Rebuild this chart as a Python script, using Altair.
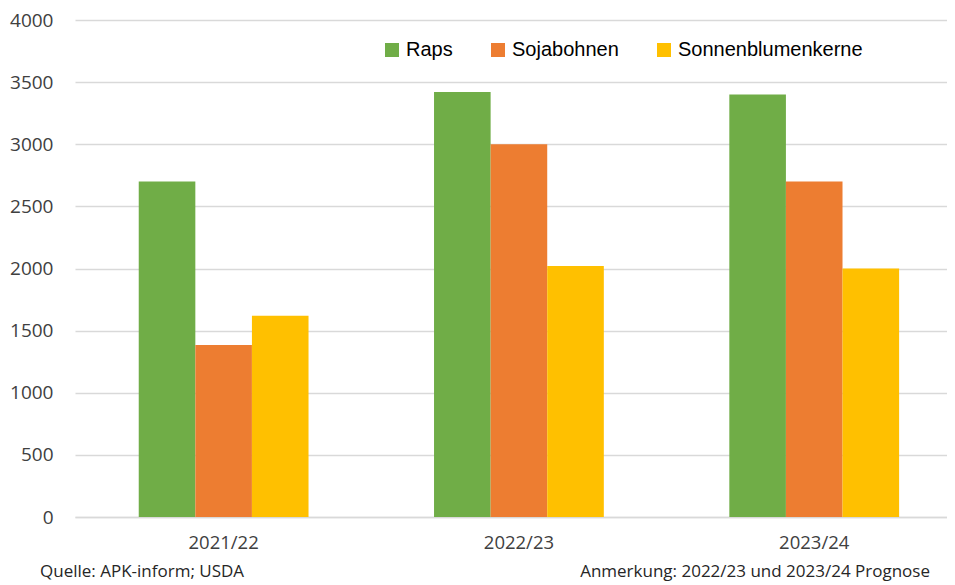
import altair as alt
import pandas as pd

years = ["2021/22", "2022/23", "2023/24"]
series = ["Raps", "Sojabohnen", "Sonnenblumenkerne"]
raps = [2700, 3420, 3400]
soja = [1385, 3000, 2700]
sonnen = [1620, 2020, 2000]
colors = ["#70AD47", "#ED7D31", "#FFC000"]
y_ticks = [0, 500, 1000, 1500, 2000, 2500, 3000, 3500, 4000]
source_note = ["Quelle: APK-inform; USDA"]
remark_note = ["Anmerkung: 2022/23 und 2023/24 Prognose"]

rows = []
for s, vals in zip(series, [raps, soja, sonnen]):
    for yr, v in zip(years, vals):
        rows.append({"Jahr": yr, "Sorte": s, "Wert": v})
df = pd.DataFrame(rows)

bars = alt.Chart(df).mark_bar().encode(
    x=alt.X(
        "Jahr:N",
        sort=years,
        scale=alt.Scale(paddingInner=0.425, paddingOuter=0.189, align=0.571),
        axis=alt.Axis(
            title=None, labelAngle=0, ticks=False, domain=True,
            domainColor="#d9d9d9", domainWidth=1.5, labelFont="Open Sans",
            labelFontSize=18.5, labelColor="#404040", labelPadding=16, grid=False,
        ),
    ),
    xOffset=alt.XOffset("Sorte:N", sort=series,
                        scale=alt.Scale(paddingInner=0, paddingOuter=0)),
    y=alt.Y(
        "Wert:Q",
        scale=alt.Scale(domain=[0, 4000]),
        axis=alt.Axis(
            values=y_ticks, format="d", title=None, domain=False, ticks=False,
            grid=True, gridColor="#d9d9d9", gridWidth=1.5, labelFont="Open Sans",
            labelFontSize=19, labelColor="#404040", labelPadding=22,
        ),
    ),
    color=alt.Color(
        "Sorte:N",
        sort=series,
        scale=alt.Scale(domain=series, range=colors),
        legend=alt.Legend(
            title=None, orient="none", direction="horizontal",
            legendX=307, legendY=20, symbolType="square", symbolSize=196,
            symbolStrokeWidth=0, labelFont="Liberation Sans", labelFontSize=20,
            labelColor="#000000", columnPadding=35, labelOffset=4, padding=0,
            labelLimit=0,
        ),
    ),
)

src = alt.Chart(pd.DataFrame({"t": source_note})).mark_text(
    align="left", baseline="middle", font="Open Sans", fontSize=17, color="#262626"
).encode(x=alt.value(-35), y=alt.value(552), text="t:N")

rem = alt.Chart(pd.DataFrame({"t": remark_note})).mark_text(
    align="right", baseline="middle", font="Open Sans", fontSize=17, color="#262626"
).encode(x=alt.value(855), y=alt.value(552), text="t:N")

chart = alt.layer(bars, src, rem).properties(
    width=872,
    height=497,
    autosize=alt.AutoSizeParams(type="none"),
    padding={"left": 67, "top": 12, "right": 0, "bottom": 66},
    background="white",
).configure_view(stroke=None)

chart.save("out.html", embed_options={"renderer": "svg", "actions": False})
